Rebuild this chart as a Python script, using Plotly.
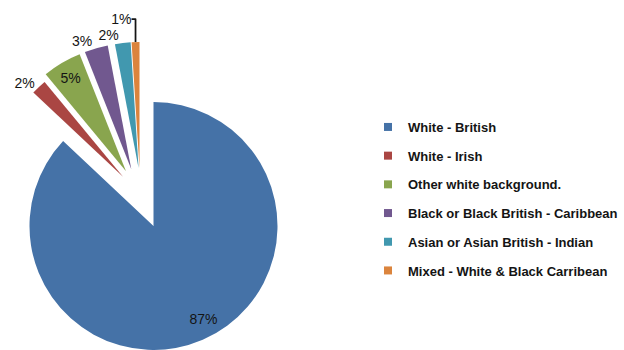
import plotly.graph_objects as go

# ---- data ----
labels = ["White - British", "White - Irish", "Other white background.",
          "Black or Black British - Caribbean", "Asian or Asian British - Indian",
          "Mixed - White & Black Carribean"]
values = [87, 2, 5, 3, 2, 1]
colors = ["#4572A7", "#AA4643", "#89A54E", "#71588F", "#4198AF", "#DB843D"]

# ---- styling / layout (pixel geometry of the exploded pie) ----
W, H = 624, 350
FONT = "Liberation Sans, Arial, sans-serif"
TXT = "#141414"
CLEAR = "rgba(0,0,0,0)"
NB = "\u00a0"
n = len(values)

# label template for the big slice: padded so it sits lower-right inside the slice
BIG_TMPL = (NB + "<br>") * 4 + NB * 13 + "%{percent:.0%}"

# each group: slice indices drawn, vertex centre (px from top-left), radius, pull, text positions
groups = [
    dict(idx=[0], c=(153.5, 226.0), r=124, pull=0.0, pos={0: "inside"}, tmpl=BIG_TMPL),
    dict(idx=[1], c=(123.0, 176.7), r=123, pull=0.0, pos={1: "outside"}),
    dict(idx=[2], c=(126.0, 171.3), r=126, pull=0.0, pos={2: "inside"}),
    dict(idx=[3], c=(131.3, 169.2), r=126, pull=0.0, pos={3: "outside"}),
    dict(idx=[4, 5], c=(139.8, 178.0), r=126, pull=10 / 126, pos={4: "outside", 5: "outside"}),
]


def clamp(v):
    return min(1.0, max(0.0, v))


def domain_for(cx, cy, r, pull):
    half = r * (1 + pull)
    return dict(x=[clamp((cx - half) / W), clamp((cx + half) / W)],
                y=[clamp((H - cy - half) / H), clamp((H - cy + half) / H)])


fig = go.Figure()

for g in groups:
    shown = set(g["idx"])
    tmpl = g.get("tmpl", "%{percent:.0%}")
    fig.add_trace(go.Pie(
        labels=labels, values=values, sort=False, direction="clockwise", rotation=0,
        marker=dict(colors=[colors[i] if i in shown else CLEAR for i in range(n)],
                    line=dict(width=0)),
        pull=[g["pull"] if i in shown else 0 for i in range(n)],
        texttemplate=[tmpl if i in shown else "" for i in range(n)],
        textposition=[g["pos"].get(i, "none") for i in range(n)],
        insidetextorientation="horizontal",
        textfont=dict(family=FONT, size=14, color=TXT),
        domain=domain_for(g["c"][0], g["c"][1], g["r"], g["pull"]),
        automargin=False, showlegend=False, hoverinfo="skip",
    ))

# legend entries
for lab, col in zip(labels, colors):
    fig.add_trace(go.Scatter(
        x=[None], y=[None], mode="markers", name=lab, legendgroup=lab,
        marker=dict(symbol="square", size=8, color=col),
        hoverinfo="skip",
    ))

fig.update_layout(
    width=W, height=H,
    margin=dict(l=0, r=0, t=0, b=0, autoexpand=False),
    paper_bgcolor="white", plot_bgcolor="white",
    xaxis=dict(visible=False), yaxis=dict(visible=False),
    font=dict(family=FONT, size=14, color=TXT),
    hovermode=False,
    legend=dict(
        x=368 / W, xanchor="left", y=1 - 112 / H, yanchor="top",
        traceorder="grouped", tracegroupgap=8.8,
        font=dict(family=FONT, size=13, color=TXT, weight="bold"),
        bgcolor=CLEAR, borderwidth=0,
    ),
)

fig.write_html("out.html")
